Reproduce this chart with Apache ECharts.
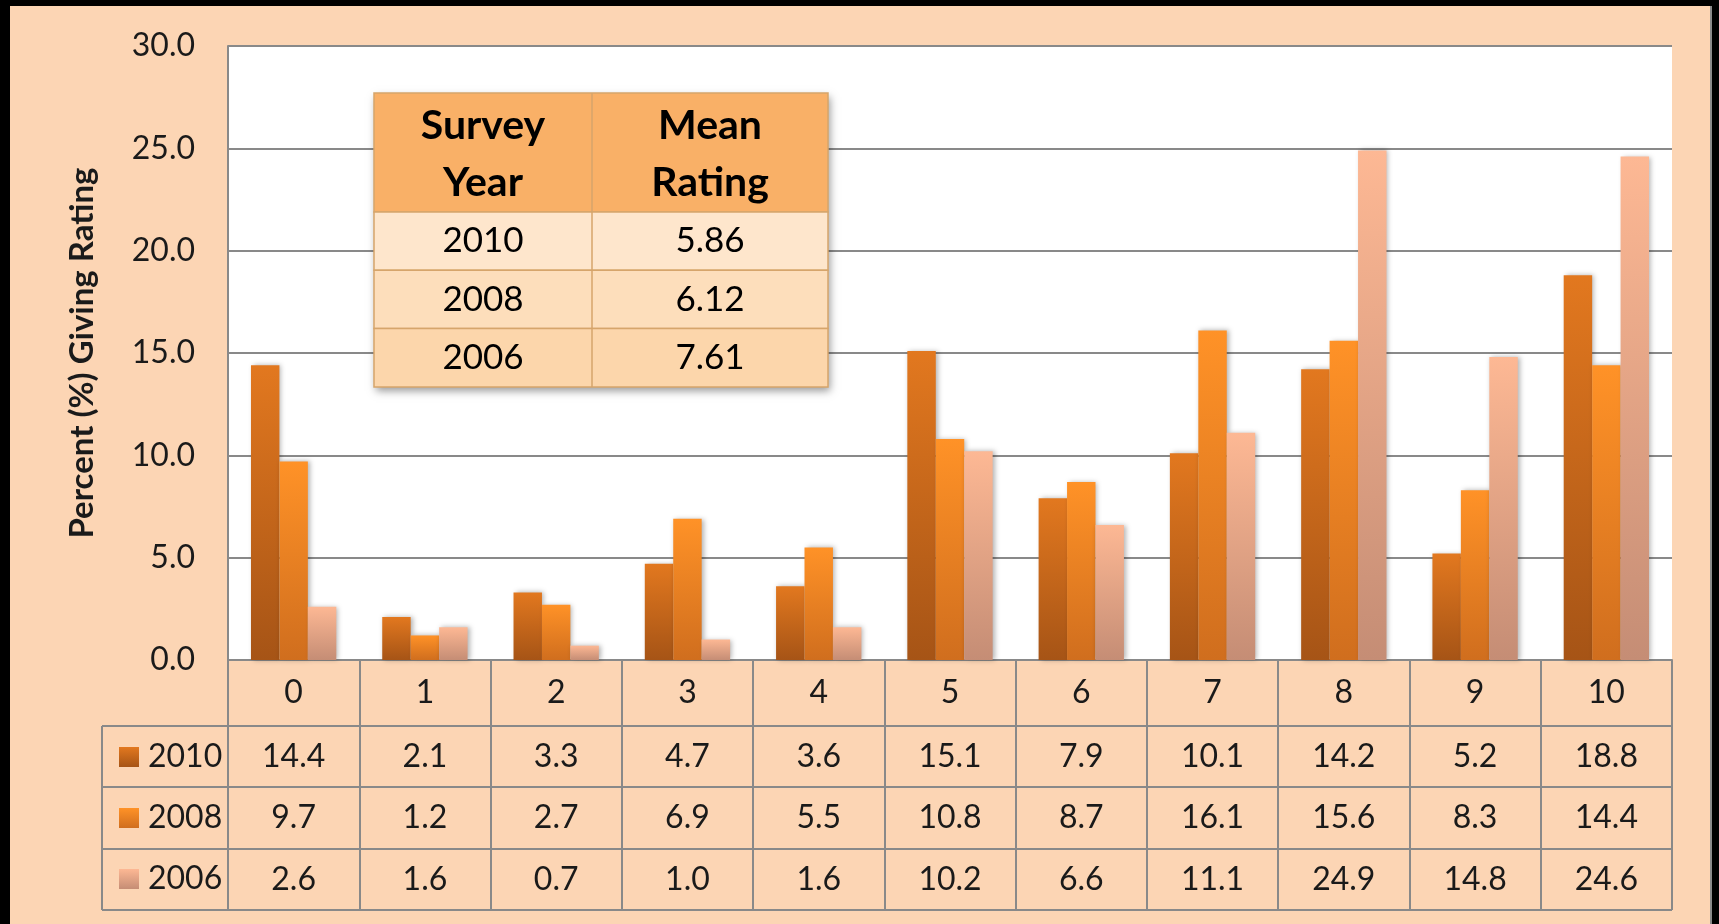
<!DOCTYPE html>
<html>
<head>
<meta charset="utf-8">
<script src="https://cdn.jsdelivr.net/npm/echarts@6/dist/echarts.min.js"></script>
<style>
  html, body { margin: 0; padding: 0; background: #FCD5B4; }
  #chart { position: absolute; left: 0; top: 0; width: 1719px; height: 924px; }
  .bar { position: absolute; background: #000; pointer-events: none; }
</style>
</head>
<body>
<div id="chart"></div>
<div class="bar" style="left:0;top:0;width:1719px;height:6px;"></div>
<div class="bar" style="left:0;top:0;width:10px;height:924px;"></div>
<div class="bar" style="left:1712px;top:0;width:7px;height:924px;"></div>
<div class="bar" style="left:1710px;top:6px;width:2px;height:918px;background:#8a8a8a;"></div>
<script>
// ---- data ----
const categories = ['0', '1', '2', '3', '4', '5', '6', '7', '8', '9', '10'];
const seriesNames = ['2010', '2008', '2006'];
const values2010 = [14.4, 2.1, 3.3, 4.7, 3.6, 15.1, 7.9, 10.1, 14.2, 5.2, 18.8];
const values2008 = [9.7, 1.2, 2.7, 6.9, 5.5, 10.8, 8.7, 16.1, 15.6, 8.3, 14.4];
const values2006 = [2.6, 1.6, 0.7, 1.0, 1.6, 10.2, 6.6, 11.1, 24.9, 14.8, 24.6];
const yTicks = [0, 5, 10, 15, 20, 25, 30];
const surveyYears = ['2010', '2008', '2006'];
const meanRatings = ['5.86', '6.12', '7.61'];
const tableHeader = ['Survey\nYear', 'Mean\nRating'];

// ---- style ----
const FONT = 'Lato';
const FS = 32;
const TXT = '#1a1a1a';
const GRID_C = '#898989';
const grad = (top, bottom) => new echarts.graphic.LinearGradient(0, 0, 0, 1, [
  { offset: 0, color: top }, { offset: 1, color: bottom }
]);
const colors = [
  grad('#E2781F', '#A65416'),
  grad('#FF9227', '#D06E1E'),
  grad('#FDB894', '#C58D75')
];
const allValues = [values2010, values2008, values2006];

const chart = echarts.init(document.getElementById('chart'), null, { renderer: 'canvas' });

const grid = { left: 228, top: 46, right: 47, bottom: 264 };
const tableLeft = 102, tableRight = 1672;
const rowLines = [726, 787, 849, 910];

const graphics = [];
// data table horizontal lines
rowLines.forEach(y => graphics.push({
  type: 'line', z: 10,
  shape: { x1: tableLeft, y1: y, x2: tableRight, y2: y },
  style: { stroke: GRID_C, lineWidth: 2 }
}));
graphics.push({
  type: 'line', z: 10,
  shape: { x1: tableLeft, y1: rowLines[0], x2: tableLeft, y2: rowLines[3] },
  style: { stroke: GRID_C, lineWidth: 2 }
});

// mean rating table
const mt = { x: 374, y: 93, w: 454, colX: 592, headH: 119, rowH: 58.3 };
const mtBorder = '#D6A56B';
const mtH = mt.headH + 3 * mt.rowH;
graphics.push({
  type: 'rect', z: 19,
  shape: { x: mt.x, y: mt.y, width: mt.w, height: mtH },
  style: { fill: '#F9B067', shadowBlur: 8, shadowColor: 'rgba(0,0,0,0.4)', shadowOffsetX: 2, shadowOffsetY: 4 }
});
graphics.push({
  type: 'rect', z: 20,
  shape: { x: mt.x, y: mt.y, width: mt.w, height: mt.headH },
  style: { fill: '#F9B067', stroke: mtBorder, lineWidth: 1.5 }
});
const rowFills = ['#FEE6CC', '#FDDEBB', '#FCD6AB'];
surveyYears.forEach((yr, i) => {
  graphics.push({
    type: 'rect', z: 20,
    shape: { x: mt.x, y: mt.y + mt.headH + i * mt.rowH, width: mt.w, height: mt.rowH },
    style: { fill: rowFills[i], stroke: mtBorder, lineWidth: 1.5 }
  });
});
graphics.push({
  type: 'line', z: 21,
  shape: { x1: mt.colX, y1: mt.y, x2: mt.colX, y2: mt.y + mtH },
  style: { stroke: mtBorder, lineWidth: 1.5 }
});
const c1 = (mt.x + mt.colX) / 2, c2 = (mt.colX + mt.x + mt.w) / 2;
tableHeader.forEach((h, j) => {
  graphics.push({
    type: 'text', z: 22,
    style: { text: h, x: j === 0 ? c1 : c2, y: mt.y + mt.headH / 2 + 2, align: 'center', verticalAlign: 'middle',
      font: 'bold 41px ' + FONT, lineHeight: 57, fill: '#000' }
  });
});
surveyYears.forEach((yr, i) => {
  const cy = mt.y + mt.headH + i * mt.rowH + mt.rowH / 2;
  graphics.push({ type: 'text', z: 22,
    style: { text: yr, x: c1, y: cy, align: 'center', verticalAlign: 'middle', font: '35px ' + FONT, fill: '#000' } });
  graphics.push({ type: 'text', z: 22,
    style: { text: meanRatings[i], x: c2, y: cy, align: 'center', verticalAlign: 'middle', font: '35px ' + FONT, fill: '#000' } });
});

const richRow = lh => ({ fontFamily: FONT, fontSize: FS, color: TXT, lineHeight: lh });

const option = {
  backgroundColor: '#FCD5B4',
  animation: false,
  grid: { ...grid, show: true, backgroundColor: '#ffffff', borderWidth: 0 },
  legend: {
    data: seriesNames,
    orient: 'vertical',
    left: 114, top: 736,
    itemWidth: 20, itemHeight: 20, itemGap: 29,
    icon: 'rect',
    textStyle: { fontFamily: FONT, fontSize: FS, color: TXT, padding: [0, 0, 0, 4] },
    selectedMode: false
  },
  xAxis: {
    type: 'category',
    data: categories,
    axisLine: { show: true, lineStyle: { color: GRID_C, width: 2 } },
    axisTick: { show: true, interval: 0, length: 250, lineStyle: { color: GRID_C, width: 2 } },
    axisLabel: {
      interval: 0, margin: 0, verticalAlign: 'top',
      formatter: (val, idx) => `{c|${val}}\n{a|${values2010[idx].toFixed(1)}}\n{b|${values2008[idx].toFixed(1)}}\n{d|${values2006[idx].toFixed(1)}}`,
      rich: { c: richRow(66), a: richRow(61), b: richRow(62), d: richRow(61) }
    },
    splitLine: { show: false }
  },
  yAxis: {
    type: 'value',
    min: yTicks[0], max: yTicks[yTicks.length - 1], interval: 5,
    name: 'Percent (%) Giving Rating',
    nameLocation: 'middle', nameRotate: 90, nameGap: 129,
    nameTextStyle: { fontFamily: FONT, fontSize: 33, fontWeight: 'bold', color: TXT },
    axisLine: { show: true, lineStyle: { color: GRID_C, width: 2 } },
    axisTick: { show: false },
    axisLabel: { margin: 33, fontFamily: FONT, fontSize: FS, color: TXT, formatter: v => v.toFixed(1) },
    splitLine: { show: true, lineStyle: { color: GRID_C, width: 2 } }
  },
  series: seriesNames.map((n, i) => ({
    name: n,
    type: 'bar',
    data: allValues[i],
    barGap: '0%',
    barCategoryGap: '35%',
    itemStyle: { color: colors[i], shadowBlur: 5, shadowColor: 'rgba(0,0,0,0.3)', shadowOffsetX: 2 }
  })),
  graphic: graphics
};
chart.setOption(option);
</script>
</body>
</html>
